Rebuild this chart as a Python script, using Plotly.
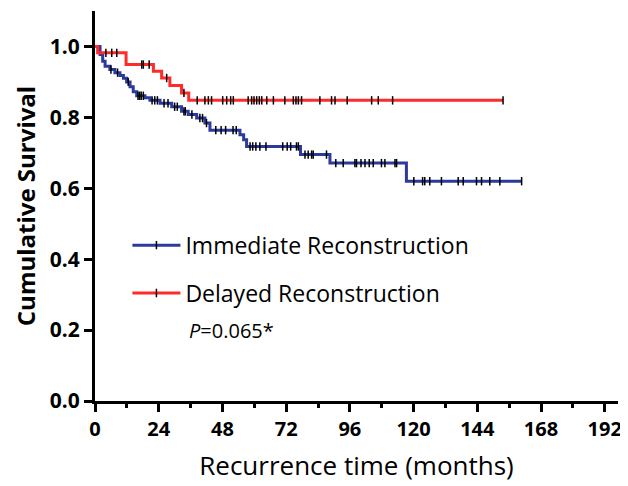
import plotly.graph_objects as go
import numpy as np

# ---- data ----
imm_times = [0, 1.9, 2.9, 3.8, 5.6, 7.5, 9.4, 10.7, 11.9, 13.2, 14.4, 15.7, 18.8, 20.7, 24.5,
             28.9, 32.6, 35.1, 38.3, 41.4, 43.3, 54.6, 56.0, 57.1, 77.4, 88.5, 117.3]
imm_surv = [1.0, 0.977, 0.958, 0.944, 0.935, 0.926, 0.918, 0.910, 0.900, 0.886, 0.872, 0.861, 0.855,
            0.848, 0.840, 0.830, 0.817, 0.808, 0.798, 0.784, 0.764, 0.751, 0.737, 0.718, 0.695,
            0.671, 0.620]
imm_end = 160.7
imm_censor = [6, 8.5, 12.5, 16.2, 16.8, 17.4, 18.2, 21.5, 22.5, 23.5, 26, 27.5, 30, 31, 33.5, 34,
              36.5, 39.5, 40.5, 42, 45.5, 47.5, 49.2, 52, 53.2, 58.4, 59.4, 60.6, 62.1, 64.4, 70.7,
              72.4, 73.7, 75.9, 76.6, 79.1, 80.3, 81.6, 82.2, 87.2, 90.7, 93.5, 97.9, 98.5, 100.2,
              101.7, 103.3, 104.8, 107.9, 109.2, 113, 113.6, 120.1, 123.4, 124.2, 126.1, 130.5,
              136.8, 138.7, 143.7, 145.6, 148.7, 152.5, 160.7]

del_times = [0, 1.0, 11.7, 22.0, 25.1, 28.2, 32.6, 35.3]
del_surv = [1.0, 0.982, 0.949, 0.930, 0.911, 0.890, 0.869, 0.848]
del_end = 153.7
del_censor = [4.1, 6.3, 8.2, 17.6, 18.2, 20.4, 27.0, 33.5, 38.5, 41.4, 42.7, 43.9, 48.1, 49.6,
              51.1, 52.1, 57.7, 59.0, 59.9, 60.9, 61.9, 62.8, 64.7, 67.2, 71.5, 74.7, 75.7, 76.6,
              77.8, 84.7, 89.1, 90.4, 95.0, 104.2, 106.7, 112.1, 153.7]

names = ["Immediate Reconstruction", "Delayed Reconstruction"]
colors = ["#2b3a9c", "#ff2a2a"]
x_ticks = [0, 24, 48, 72, 96, 120, 144, 168, 192]
y_ticks = [0.0, 0.2, 0.4, 0.6, 0.8, 1.0]
p_text = "<i>P</i>=0.065*"


def surv_at(times, surv, t):
    idx = np.searchsorted(np.array(times), t, side="right") - 1
    return surv[idx]


fig = go.Figure()
groups = [(imm_times, imm_surv, imm_end, imm_censor), (del_times, del_surv, del_end, del_censor)]
font = "Open Sans"
for i, (tt, ss, te, cc) in enumerate(groups):
    fig.add_trace(go.Scatter(x=list(tt) + [te], y=list(ss) + [ss[-1]], mode="lines",
                             line=dict(color=colors[i], width=3, shape="hv"),
                             showlegend=False, hoverinfo="skip"))
for i, (tt, ss, te, cc) in enumerate(groups):
    fig.add_trace(go.Scatter(x=cc, y=[surv_at(tt, ss, c) for c in cc], mode="markers",
                             marker=dict(symbol="line-ns", size=6,
                                         line=dict(color="black", width=1.5)),
                             showlegend=False, hoverinfo="skip"))
for i in range(2):
    fig.add_trace(go.Scatter(x=[None], y=[None], mode="lines+markers", name=names[i],
                             legendgroup=str(i),
                             line=dict(color=colors[i], width=3),
                             marker=dict(symbol="line-ns", size=6, color="black",
                                         line=dict(color="black", width=1.5))))

fig.update_layout(
    width=620, height=478,
    margin=dict(l=87, r=10, t=3, b=85),
    plot_bgcolor="white", paper_bgcolor="white",
    font=dict(family=font, color="black"),
    legend=dict(x=0.062, y=0.338, xanchor="left", yanchor="middle",
                font=dict(size=23, family=font), tracegroupgap=15, itemwidth=48,
                bgcolor="rgba(0,0,0,0)"),
    annotations=[dict(x=0.176, y=0.182, xref="paper", yref="paper", text=p_text,
                      showarrow=False, xanchor="left", yanchor="middle",
                      font=dict(size=20, family=font))],
)
fig.update_xaxes(range=[0, 197], tickvals=x_ticks, ticks="outside", ticklen=8, tickwidth=2.5,
                 tickcolor="black", showline=True, linewidth=3, linecolor="black",
                 showgrid=False, zeroline=False, automargin=False,
                 minor=dict(dtick=12, tick0=0, ticks="outside", ticklen=4, tickwidth=2.5,
                            tickcolor="black", showgrid=False),
                 tickfont=dict(size=20, family=font, weight="bold"),
                 title=dict(text="Recurrence time (months)", font=dict(size=26, family=font),
                            standoff=16))
fig.update_yaxes(range=[0, 1.1], tickvals=y_ticks, tickformat=".1f", ticks="outside", ticklen=8,
                 tickwidth=2.5, tickcolor="black", showline=True, linewidth=3, linecolor="black",
                 showgrid=False, zeroline=False, automargin=False,
                 tickfont=dict(size=21, family=font, weight="bold"),
                 title=dict(text="Cumulative Survival", font=dict(size=24, family=font, weight="bold"),
                            standoff=8))

fig.write_html("out.html")
